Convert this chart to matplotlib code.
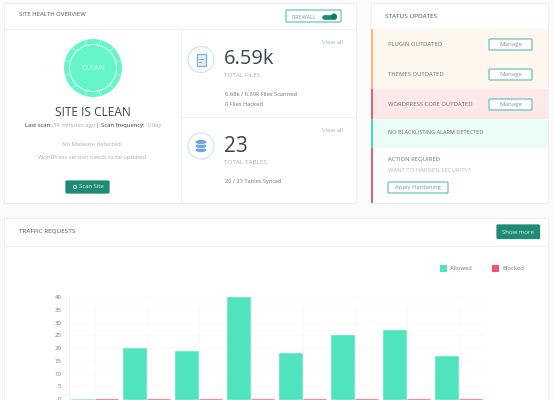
import matplotlib
matplotlib.use('Agg')
import matplotlib.pyplot as plt
from matplotlib.patches import Rectangle, Circle, Ellipse, FancyBboxPatch
import numpy as np

plt.rcParams['font.family'] = ['Open Sans', 'DejaVu Sans']

# chart data
allowed = [0, 20, 19, 40, 18, 25, 27, 17]
blocked = [0, 0, 0, 0, 0, 0, 0, 0]
y_ticks = [0, 5, 10, 15, 20, 25, 30, 35, 40]

# status rows
status_labels = ['PLUGIN OUTDATED', 'THEMES OUTDATED', 'WORDPRESS CORE OUTDATED']

DARK = '#4a4f55'
GREY = '#a9adb1'
TEAL = '#1f8a75'
MINT = '#50e3c0'
RED = '#f2566a'

W, H = 554, 400
fig = plt.figure(figsize=(W / 100, H / 100), dpi=100, facecolor='#fbfbfb')

# page layout is drawn in pixel coordinates on a full-figure axes
bg = fig.add_axes([0, 0, 1, 1])
bg.set_xlim(0, W)
bg.set_ylim(H, 0)
bg.axis('off')


def rect(x0, y0, x1, y1, fc='white', ec='none', lw=0.8, z=1):
    bg.add_patch(Rectangle((x0, y0), x1 - x0, y1 - y0, fc=fc, ec=ec, lw=lw, zorder=z))


def button(x0, y0, x1, y1, fc='white', ec='#6cc4b4', lw=0.9):
    bg.add_patch(FancyBboxPatch((x0 + 1, y0 + 1), x1 - x0 - 2, y1 - y0 - 2,
                                boxstyle='round,pad=1', fc=fc, ec=ec, lw=lw, zorder=3))


def label(x, y, s, size=4.2, color=DARK, ha='left', **kw):
    bg.text(x, y, s, fontsize=size, color=color, ha=ha, va='center', zorder=5, **kw)


# panels
rect(4, 3, 356, 203, ec='#eceeef')
rect(371, 3, 548, 203, ec='#eceeef')
rect(4, 218, 548, 402, ec='#eceeef')
for x0, x1, y in [(4, 356, 29), (371, 548, 29), (181, 356, 117), (4, 548, 246)]:
    bg.plot([x0, x1], [y, y], color='#eff0f1', lw=0.8, zorder=2)
bg.plot([181, 181], [29, 203], color='#eff0f1', lw=0.8, zorder=2)

label(19, 15, 'SITE HEALTH OVERVIEW', 4.3)
label(385, 16, 'STATUS UPDATES', 4.6)
label(19, 231.5, 'TRAFFIC REQUESTS', 4.6)

# clean gauge
bg.add_patch(Circle((93, 68), 29, fc='#64f5c8', ec='none', zorder=3))
bg.add_patch(Circle((93, 68), 23.5, fc='none', ec='white', lw=0.7, zorder=4))
for a in np.deg2rad(np.arange(0, 360, 30) + 15):
    bg.plot([93 + 23.5 * np.cos(a), 93 + 29 * np.cos(a)],
            [68 + 23.5 * np.sin(a), 68 + 29 * np.sin(a)], color='#c8fbea', lw=0.4, zorder=4)
label(93, 68, 'CLEAN', 5.6, '#d8fdf1', 'center')
label(92.5, 113, 'SITE IS CLEAN', 8.6, '#3f444a', 'center')
label(25, 125.5, 'Last scan:', 4.2, '#33373b')
label(53, 125.5, '34 minutes ago', 4.2, GREY)
label(96, 125.5, '|', 4.2, DARK)
label(101, 125.5, 'Scan frequency:', 4.2, '#33373b')
label(146, 125.5, '1/day', 4.2, GREY)
label(92.5, 144, 'No Malware detected.', 4.2, GREY, 'center')
label(92.5, 158, 'WordPress version needs to be updated.', 4.15, GREY, 'center')
button(66, 181, 109, 193, fc=TEAL, ec=TEAL)
bg.add_patch(Circle((75, 187), 1.6, fc='none', ec='white', lw=0.6, zorder=5))
label(79, 187, 'Scan Site', 4.3, '#e4f5f1')

# firewall switch
button(286, 10, 341, 22)
label(291.5, 17.2, 'FIREWALL', 4, '#7f9a96')
bg.plot([324, 334], [16.5, 16.5], color=TEAL, lw=3.4, solid_capstyle='round', zorder=4)
bg.add_patch(Circle((334, 16.5), 3, fc='#137a66', ec='none', zorder=5))

# stat blocks
for cy in (59.5, 146):
    bg.add_patch(Circle((201, cy), 13, fc='white', ec='#cfe0f5', lw=0.8, zorder=3))
rect(196.5, 53.5, 205.5, 65.5, fc='#e3eefb', ec='#7eaee8', lw=0.9, z=4)
rect(198.5, 59, 203.5, 60, fc='#7eaee8', z=5)
rect(198.5, 62, 202, 63, fc='#7eaee8', z=5)
for cy in (150, 146, 142):
    bg.add_patch(Ellipse((201, cy), 12, 5, fc='#6ea5e6', ec='white', lw=0.5, zorder=4))

label(224, 59, '6.59k', 14.5, '#3f444a')
label(224, 75.5, 'TOTAL FILES', 4.6, GREY)
label(225, 94.5, '6.68k / 6.59k Files Scanned', 4.15, '#6d7176')
label(225, 104.5, '0 Files Hacked', 4.15, '#6d7176')
label(322, 42.5, 'View all', 4.3, '#9fb0ad')
label(224, 146, '23', 15, '#3f444a')
label(224, 162.5, 'TOTAL TABLES', 4.6, GREY)
label(225, 182, '20 / 23 Tables Synced', 4.1, '#6d7176')
label(322, 130, 'View all', 4.3, '#9fb0ad')

# status rows
rows = [(29, 89, '#fff6ee', '#f5b98a'), (89, 119, '#ffe8ea', '#e4616f'),
        (119, 148, '#ebfbf6', '#4fd6bb'), (148, 203, 'white', '#e4616f')]
for y0, y1, fc, strip in rows:
    rect(371, y0, 548, y1, fc=fc, z=2)
    rect(371, y0, 373, y1, fc=strip, z=3)
for s, y in zip(status_labels, [44.5, 74.5, 104.5]):
    label(388, y, s, 4.2, '#6b6f73')
    button(489, y - 5.5, 532, y + 5.5)
    label(510.5, y, 'Manage', 4.4, '#7f9a96', 'center')
label(388, 132, 'NO BLACKLISTING ALARM DETECTED', 4.1, '#6b6f73')
label(388, 160, 'ACTION REQUIRED', 4.2, '#6b6f73')
label(388, 170.5, 'WANT TO HARDEN SECURITY?', 4.2, '#b5b8bb')
button(388, 182, 448, 193)
label(418, 187.5, 'Apply Hardening', 4.2, '#7f9a96', 'center')

# traffic header and legend
button(497, 225, 539.5, 238.5, fc=TEAL, ec=TEAL)
label(518, 232, 'Show more', 4.3, '#e4f5f1', 'center')
rect(440, 265, 447, 272, fc=MINT, z=3)
label(450, 269, 'Allowed', 4.2, '#75797d')
rect(492, 265, 499, 272, fc=RED, z=3)
label(502, 269, 'Blocked', 4.2, '#75797d')

# bar chart
ax = fig.add_axes([68.5 / W, 1 - 399 / H, 416 / W, 102.5 / H], facecolor='none')
x = np.arange(len(allowed))
ax.bar(x - 0.225, allowed, width=0.44, color=MINT, edgecolor=MINT, lw=0.4, clip_on=False)
ax.bar(x + 0.225, blocked, width=0.44, color=RED, edgecolor='#ee8e9c', lw=0.9, clip_on=False)
ax.set_xlim(-0.5, len(allowed) - 0.5)
ax.set_ylim(0, 40.2)
ax.set_yticks(y_ticks)
ax.set_xticks(x)
ax.set_xticklabels([])
ax.tick_params(axis='y', length=0, labelsize=4.4, labelcolor='#75797d', pad=5)
ax.tick_params(axis='x', length=0)
ax.grid(True, color='#f8f8f8', lw=0.5)
ax.set_axisbelow(True)
for side in ['top', 'right', 'bottom']:
    ax.spines[side].set_visible(False)
ax.spines['left'].set_color('#eeeeee')
ax.spines['left'].set_linewidth(0.6)

fig.savefig('out.png', dpi=100, facecolor=fig.get_facecolor())
